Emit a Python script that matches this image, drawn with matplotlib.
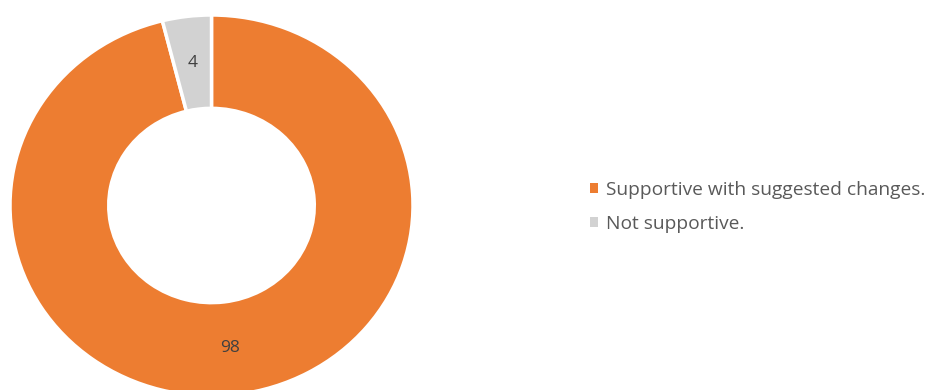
import matplotlib.pyplot as plt

# survey responses
labels = ['Supportive with suggested changes.', 'Not supportive.']
counts = [98, 4]
colors = ['#ED7D31', '#D2D2D2']

W, H = 928, 390
fig = plt.figure(figsize=(W / 100, H / 100), dpi=100)
ax = fig.add_axes([0, 0, 1, 1])

total = sum(counts)
wedges, texts, autotexts = ax.pie(
    counts,
    colors=colors,
    startangle=90,
    counterclock=False,
    radius=1.0,
    autopct=lambda p: f'{round(p * total / 100):d}',
    pctdistance=0.755,
    wedgeprops=dict(width=0.49, edgecolor='white', linewidth=2.5),
    textprops=dict(color='#404040', fontsize=12.5, family='Open Sans'),
)

# ring centre at (211.5, 205.5) px from top-left, slightly squashed vertically
cx, cy = 211.5, H - 205.5
rx, ry = 201.5, 190.5
ax.set_aspect('auto')
ax.set_xlim(-cx / rx, (W - cx) / rx)
ax.set_ylim(-cy / ry, (H - cy) / ry)
ax.axis('off')

leg = fig.legend(
    wedges, labels,
    loc='center left',
    bbox_to_anchor=(590 / W, (H - 207) / H),
    frameon=False,
    borderpad=0, borderaxespad=0,
    handlelength=0.4, handleheight=0.4,
    handletextpad=0.45, labelspacing=0.85,
    prop=dict(family='Open Sans', size=13.8),
)
for t in leg.get_texts():
    t.set_color('#595959')
for h in leg.legend_handles:
    h.set_edgecolor('none')

fig.savefig('out.png', dpi=100)
